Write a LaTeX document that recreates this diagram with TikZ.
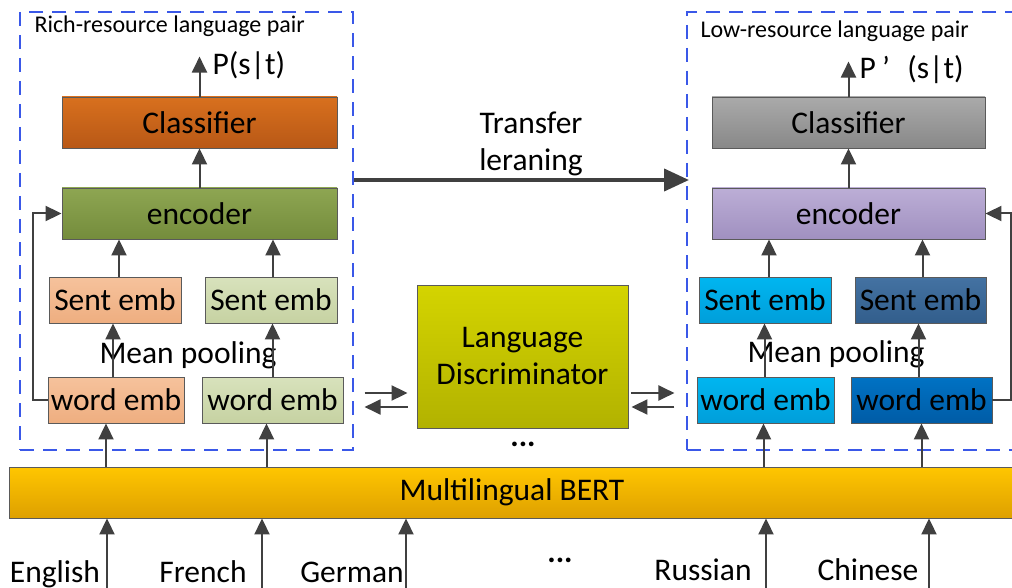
\documentclass[tikz,border=0pt]{standalone}
\usepackage{fontspec}
\setmainfont{Carlito}
\usetikzlibrary{arrows.meta,positioning}

\definecolor{boxgray}{RGB}{90,90,90}
\definecolor{arrgray}{RGB}{64,64,64}
\definecolor{dashblue}{RGB}{58,88,232}

\begin{document}
\begin{tikzpicture}[x=1pt,y=-1pt,font=\fontsize{31.5}{37}\selectfont,
  block/.style={rectangle,draw=boxgray,line width=0.9pt,inner sep=0pt,minimum height=46pt},
  arr/.style={draw=arrgray,line width=2pt,-{Triangle[length=16pt,width=15pt]}},
  pair/.style={draw=dashblue,line width=2pt,dash pattern=on 14pt off 9pt},
  small/.style={font=\fontsize{24}{28}\selectfont}]
\path[fill=white,use as bounding box] (0,0) rectangle (1012,588);

\node[pair,minimum width=333pt,minimum height=438pt] (rich) at (186.5,231) {};
\node[pair,minimum width=338pt,minimum height=438pt] (low) at (856,231) {};
\node[small,anchor=base west] (richlbl) at (31,33) {Rich-resource language pair};
\node[small,anchor=base west] (lowlbl) at (697,38) {Low-resource language pair};

\node[block,minimum width=275pt,minimum height=51pt,top color={rgb,255:red,216;green,112;blue,30},bottom color={rgb,255:red,184;green,88;blue,22}] (clsL) at (199.5,122.5) {Classifier};
\node[block,minimum width=275pt,minimum height=51pt,top color={rgb,255:red,142;green,166;blue,82},bottom color={rgb,255:red,116;green,140;blue,60}] (encL) at (199.5,213.5) {encoder};
\node[block,minimum width=132pt,top color={rgb,255:red,246;green,194;blue,156},bottom color={rgb,255:red,238;green,174;blue,128}] (sentL1) at (115,300) {Sent emb};
\node[block,minimum width=132pt,top color={rgb,255:red,216;green,226;blue,188},bottom color={rgb,255:red,198;green,210;blue,162}] (sentL2) at (271,300) {Sent emb};
\node[block,minimum width=136pt,top color={rgb,255:red,246;green,194;blue,156},bottom color={rgb,255:red,238;green,174;blue,128}] (wordL1) at (116,400) {word emb};
\node[block,minimum width=141pt,top color={rgb,255:red,216;green,226;blue,188},bottom color={rgb,255:red,198;green,210;blue,162}] (wordL2) at (272.5,400) {word emb};

\node[block,minimum width=273pt,minimum height=51pt,top color={rgb,255:red,170;green,170;blue,170},bottom color={rgb,255:red,136;green,136;blue,136}] (clsR) at (848.5,122.5) {Classifier};
\node[block,minimum width=273pt,minimum height=51pt,top color={rgb,255:red,188;green,174;blue,214},bottom color={rgb,255:red,160;green,144;blue,192}] (encR) at (848.5,213.5) {encoder};
\node[block,minimum width=132pt,top color={rgb,255:red,0;green,182;blue,240},bottom color={rgb,255:red,0;green,158;blue,218}] (sentR1) at (765,300) {Sent emb};
\node[block,minimum width=131pt,top color={rgb,255:red,68;green,114;blue,162},bottom color={rgb,255:red,50;green,94;blue,140}] (sentR2) at (920.5,300) {Sent emb};
\node[block,minimum width=137pt,top color={rgb,255:red,0;green,182;blue,240},bottom color={rgb,255:red,0;green,158;blue,218}] (wordR1) at (765.5,400) {word emb};
\node[block,minimum width=141pt,top color={rgb,255:red,0;green,114;blue,196},bottom color={rgb,255:red,0;green,92;blue,166}] (wordR2) at (921.5,400) {word emb};

\node[block,minimum width=211pt,minimum height=143pt,align=center,top color={rgb,255:red,212;green,212;blue,0},bottom color={rgb,255:red,178;green,178;blue,0}] (disc) at (522.5,356.5) {Language\\Discriminator};
\node (dots) at (523,444) {\textbf{...}};

\node[block,minimum width=1006pt,minimum height=51pt,top color={rgb,255:red,255;green,198;blue,0},bottom color={rgb,255:red,222;green,160;blue,0}] (bert) at (512,492.5) {Multilingual BERT};

\node[align=center] (transfer) at (531,144) {Transfer\\leraning};
\node[anchor=west] (pL) at (209,66) {P(s|t)};
\node[anchor=west] (pR) at (856,70) {P\hspace{0.2em}’\hspace{0.55em}(s|t)};

\node at (188,355) (poolL) {Mean pooling};
\node at (836,354) (poolR) {Mean pooling};

\node[anchor=base] (en) at (55,582) {English};
\node[anchor=base] (fr) at (203,582) {French};
\node[anchor=base] (de) at (352,582) {German};
\node (more) at (560,560) {\textbf{...}};
\node[anchor=base] (ru) at (703,580) {Russian};
\node[anchor=base] (zh) at (868,580) {Chinese};

\coordinate (inEn) at (107,600);
\coordinate (inFr) at (262,600);
\coordinate (inDe) at (406,600);
\coordinate (inRu) at (766,600);
\coordinate (inZh) at (929,600);

\draw[arr] (inEn) -- (inEn |- bert.south);
\draw[arr] (inFr) -- (inFr |- bert.south);
\draw[arr] (inDe) -- (inDe |- bert.south);
\draw[arr] (inRu) -- (inRu |- bert.south);
\draw[arr] (inZh) -- (inZh |- bert.south);

\draw[arr] ([xshift=-10pt]wordL1.south |- bert.north) -- ([xshift=-10pt]wordL1.south);
\draw[arr] ([xshift=-6pt]wordL2.south |- bert.north) -- ([xshift=-6pt]wordL2.south);
\draw[arr] ([xshift=-2pt]wordR1.south |- bert.north) -- ([xshift=-2pt]wordR1.south);
\draw[arr] ([xshift=0pt]wordR2.south |- bert.north) -- ([xshift=0pt]wordR2.south);

\draw[arr] ([xshift=-3pt]wordL1.north) -- ([xshift=-3pt]wordL1.north |- sentL1.south);
\draw[arr] ([xshift=0pt]wordL2.north) -- ([xshift=0pt]wordL2.north |- sentL2.south);
\draw[arr] ([xshift=-1pt]wordR1.north) -- ([xshift=-1pt]wordR1.north |- sentR1.south);
\draw[arr] ([xshift=-3pt]wordR2.north) -- ([xshift=-3pt]wordR2.north |- sentR2.south);

\draw[arr] ([xshift=4pt]sentL1.north) -- ([xshift=4pt]sentL1.north |- encL.south);
\draw[arr] ([xshift=2pt]sentL2.north) -- ([xshift=2pt]sentL2.north |- encL.south);
\draw[arr] ([xshift=4pt]sentR1.north) -- ([xshift=4pt]sentR1.north |- encR.south);
\draw[arr] ([xshift=2pt]sentR2.north) -- ([xshift=2pt]sentR2.north |- encR.south);

\draw[arr] (encL) -- (clsL);
\draw[arr] (encR) -- (clsR);
\draw[arr] (clsL.north) -- ++(0,-40);
\draw[arr] (clsR.north) -- ++(0,-35);

\draw[arr] (wordL1.west) -- ++(-15,0) |- (encL.west);
\draw[arr] (wordR2.east) -- ++(19,0) |- (encR.east);

\draw[arr] ([shift={(-52pt,-36.5pt)}]disc.west) -- ([shift={(-9pt,-36.5pt)}]disc.west);
\draw[arr] ([shift={(-9pt,-50.5pt)}]disc.west) -- ([shift={(-52pt,-50.5pt)}]disc.west);
\draw[arr] ([shift={(3pt,-36.5pt)}]disc.east) -- ([shift={(46pt,-36.5pt)}]disc.east);
\draw[arr] ([shift={(46pt,-50.5pt)}]disc.east) -- ([shift={(3pt,-50.5pt)}]disc.east);

\draw[draw=arrgray,line width=4pt,-{Triangle[length=25pt,width=22pt]}] ([yshift=51pt]rich.east) -- ([xshift=3pt,yshift=51pt]rich.east -| low.west);
\end{tikzpicture}
\end{document}
